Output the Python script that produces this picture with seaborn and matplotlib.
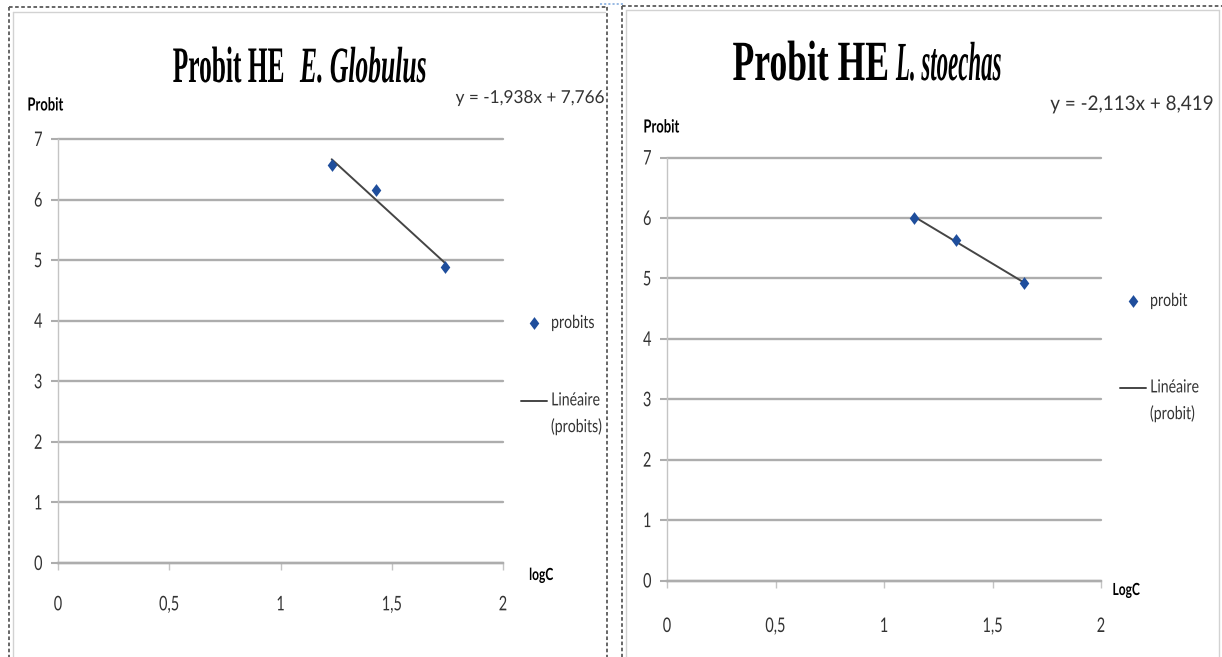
import numpy as np
import pandas as pd
import matplotlib
matplotlib.use("Agg")
import matplotlib.pyplot as plt
import seaborn as sns
from matplotlib.lines import Line2D
from matplotlib.patheffects import AbstractPathEffect
from matplotlib.transforms import Affine2D

# ---- data -----------------------------------------------------------------
eg_logc = [1.23, 1.43, 1.74]
eg_probit = [6.57, 6.15, 4.89]
ls_logc = [1.14, 1.33, 1.645]
ls_probit = [6.00, 5.64, 4.92]

eg_title = ("Probit HE", "E. Globulus")
ls_title = ("Probit HE", "L. stoechas")
eg_equation = "y = -1,938x + 7,766"
ls_equation = "y = -2,113x + 8,419"
eg_legend = ("probits", "Linéaire\n(probits)")
ls_legend = ("probit", "Linéaire\n(probit)")
eg_xlabel, ls_xlabel = "logC", "LogC"
ylabel = "Probit"

x_ticks = [0, 0.5, 1, 1.5, 2]
x_tick_labels = ["0", "0,5", "1", "1,5", "2"]
y_ticks = [0, 1, 2, 3, 4, 5, 6, 7]
y_tick_labels = [str(v) for v in y_ticks]

# ---- styling ----------------------------------------------------------------
W, H = 1222, 657
sns.set_theme(style="white")
plt.rcParams["font.family"] = ["Lato", "DejaVu Sans"]
plt.rcParams["lines.scale_dashes"] = False

POINT_COLOR = "#1f4e9c"
FIT_COLOR = "#454545"
GRID = "#adadad"
AXIS = "#c4c4c4"
TXT = "#333333"
SERIF = ["Liberation Serif", "DejaVu Serif"]
DIAMOND = [(0, 1), (0.75, 0), (0, -1), (-0.75, 0), (0, 1)]


class Squeeze(AbstractPathEffect):
    """Draw text glyphs in a condensed shape: narrowed (and optionally
    heightened about the baseline) while keeping the text's anchor point."""

    def __init__(self, sx=1.0, anchor="center", width=None, height=None):
        super().__init__()
        self.sx = sx
        self.anchor = anchor
        self.width = width
        self.height = height

    def draw_path(self, renderer, gc, tpath, affine, rgbFace=None):
        ext = tpath.get_extents(affine)
        sx = self.sx
        sy = 1.0
        if self.width is not None and ext.width > 0:
            sx = self.width / ext.width
        if self.height is not None and ext.height > 0:
            sy = self.height / ext.height
        if self.anchor == "left":
            cx = ext.x0
        elif self.anchor == "right":
            cx = ext.x1
        else:
            cx = 0.5 * (ext.x0 + ext.x1)
        cy = affine.transform((0.0, 0.0))[1]
        t = affine + Affine2D().translate(-cx, -cy).scale(sx, sy).translate(cx, cy)
        renderer.draw_path(gc, tpath, t, rgbFace)


def fx(px):
    return px / W


def fy(py):
    return 1 - py / H


fig = plt.figure(figsize=(W / 100, H / 100), dpi=100)
fig.patch.set_facecolor("white")


def fig_line(xs, ys, **kw):
    fig.add_artist(Line2D([fx(v) for v in xs], [fy(v) for v in ys],
                          transform=fig.transFigure, **kw))


# panel frames
dash = dict(color="#5a5a5a", lw=1.3, linestyle=(0, (2.6, 1.8)))
solid = dict(color="#d2d2d2", lw=1.0)
fig_line([9, 608], [7, 7], **dash)
fig_line([9, 9], [7, 657], **dash)
fig_line([607, 607], [7, 657], **dash)
fig_line([13, 605], [11.5, 11.5], **solid)
fig_line([13, 13], [11.5, 657], **solid)
fig_line([622, 1222], [6, 6], **dash)
fig_line([622, 622], [6, 657], **dash)
fig_line([626, 1219], [10, 10], **solid)
fig_line([626, 626], [10, 657], **solid)
fig_line([1219, 1219], [10, 657], **solid)
fig_line([600, 624], [4, 4], color="#8fb3e0", lw=1.3, linestyle=(0, (1.5, 1.5)))


def draw_panel(rect, logc, probit, title, title_gap, title_base, title_sizes,
               title_boxes, equation, eq_pos, eq_width, legend_labels,
               legend_anchor, legend_spacing, ylab_pos, xlabel, xlab_pos, xpad):
    x0, x1, ytop, ybot = rect
    ax = fig.add_axes([fx(x0), fy(ybot), fx(x1) - fx(x0), (ybot - ytop) / H])
    df = pd.DataFrame({"logC": logc, "probit": probit})
    sns.regplot(data=df, x="logC", y="probit", ax=ax, ci=None, truncate=True,
                color=POINT_COLOR, marker=DIAMOND, label=legend_labels[0],
                scatter_kws=dict(s=85, linewidths=0, zorder=4, alpha=1),
                line_kws=dict(color=FIT_COLOR, lw=1.4, zorder=3,
                              label=legend_labels[1]))
    ax.set_xlim(0, 2)
    ax.set_ylim(0, 7)
    ax.set_xticks(x_ticks)
    ax.set_xticklabels(x_tick_labels)
    ax.set_yticks(y_ticks)
    ax.set_yticklabels(y_tick_labels)
    ax.set_xlabel("")
    ax.set_ylabel("")
    ax.grid(axis="y", color=GRID, lw=1.7)
    ax.grid(axis="x", visible=False)
    ax.set_axisbelow(True)
    for gl in ax.get_ygridlines():
        gl.set_clip_on(False)
    for side in ("top", "right"):
        ax.spines[side].set_visible(False)
    ax.spines["left"].set_color(AXIS)
    ax.spines["left"].set_linewidth(1.0)
    ax.spines["bottom"].set_color(GRID)
    ax.spines["bottom"].set_linewidth(1.7)
    ax.tick_params(axis="y", length=5, width=1.5, color=GRID, pad=6,
                   labelsize=14.5, labelcolor=TXT, left=True)
    ax.tick_params(axis="x", length=5, width=1.0, color=AXIS, pad=xpad,
                   labelsize=14.5, labelcolor=TXT, bottom=True)
    for lab in ax.get_xticklabels():
        lab.set_path_effects([Squeeze(0.72)])
    for lab in ax.get_yticklabels():
        lab.set_path_effects([Squeeze(0.72, anchor="right")])

    # title: upright part ends at the gap, italic species name starts after it
    gx0, gx1 = title_gap
    (w0, h0), (w1, h1) = title_boxes
    fig.text(fx(gx0), fy(title_base), title[0], family=SERIF, weight="bold",
             fontsize=title_sizes[0], ha="right", va="baseline", color="black",
             path_effects=[Squeeze(anchor="right", width=w0, height=h0)])
    fig.text(fx(gx1), fy(title_base), title[1], family=SERIF, weight="bold",
             style="italic", fontsize=title_sizes[1], ha="left",
             va="baseline", color="black",
             path_effects=[Squeeze(anchor="left", width=w1, height=h1)])

    fig.text(fx(eq_pos[0]), fy(eq_pos[1]), equation, fontsize=12, ha="right",
             va="center", color=TXT,
             path_effects=[Squeeze(anchor="right", width=eq_width,
                                   height=eq_pos[2])])
    fig.text(fx(ylab_pos[0]), fy(ylab_pos[1]), ylabel, fontsize=13,
             weight="bold", ha="left", va="center", color="black",
             path_effects=[Squeeze(0.72, anchor="left")])
    fig.text(fx(xlab_pos[0]), fy(xlab_pos[1]), xlabel, fontsize=12,
             weight="bold", ha="center", va="center", color="black",
             path_effects=[Squeeze(0.72)])

    handles, labels = ax.get_legend_handles_labels()
    order = [labels.index(legend_labels[0]), labels.index(legend_labels[1])]
    leg = ax.legend([handles[i] for i in order], [labels[i] for i in order],
                    loc="upper left",
                    bbox_to_anchor=(fx(legend_anchor[0]), fy(legend_anchor[1])),
                    bbox_transform=fig.transFigure, frameon=False, fontsize=13,
                    handlelength=1.45, handletextpad=0.2,
                    labelspacing=legend_spacing, borderpad=0, borderaxespad=0)
    for t in leg.get_texts():
        t.set_color(TXT)
        t.set_linespacing(1.75)
        t.set_path_effects([Squeeze(0.78, anchor="left")])
    # keep the trend-line sample level with the first line of its label
    fit_handle = leg.legend_handles[1]
    fit_handle.set_ydata(np.asarray(fit_handle.get_ydata()) + 9.5)
    return ax


draw_panel(rect=(58, 503, 139, 563), logc=eg_logc, probit=eg_probit,
           title=eg_title, title_gap=(285, 300), title_base=82,
           title_sizes=(24, 22), title_boxes=((110, 36), (126, 36)),
           equation=eg_equation, eq_pos=(604, 98, 16), eq_width=148,
           legend_labels=eg_legend, legend_anchor=(521, 315),
           legend_spacing=3.4, ylab_pos=(27, 105), xlabel=eg_xlabel,
           xlab_pos=(541, 575), xpad=19)

draw_panel(rect=(667, 1101, 157.5, 580.5), logc=ls_logc, probit=ls_probit,
           title=ls_title, title_gap=(889, 896), title_base=80,
           title_sizes=(24, 20), title_boxes=((154, 40), (105, 39)),
           equation=ls_equation, eq_pos=(1213, 105, 18), eq_width=162,
           legend_labels=ls_legend, legend_anchor=(1120, 293),
           legend_spacing=3.9, ylab_pos=(643, 127), xlabel=ls_xlabel,
           xlab_pos=(1126, 590), xpad=22)

fig.savefig("out.png", dpi=100, facecolor="white")
